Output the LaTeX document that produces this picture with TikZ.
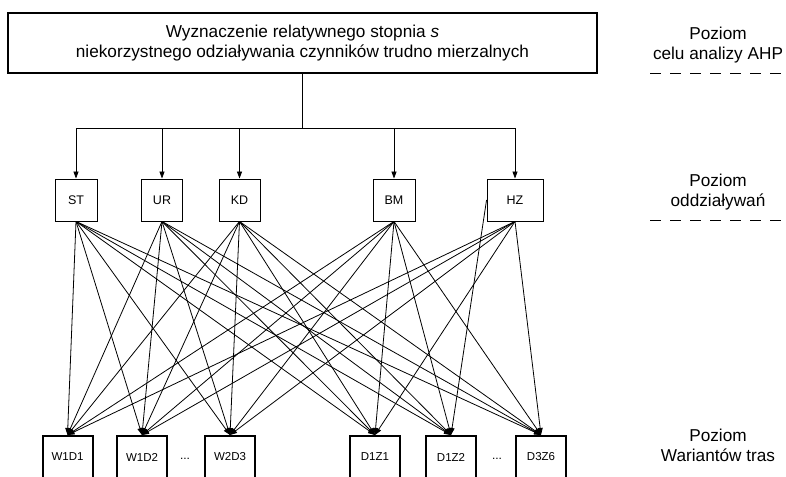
\documentclass[tikz,border=0pt]{standalone}
\usepackage{fontspec}
\setmainfont{Liberation Sans}
\usetikzlibrary{arrows.meta}
\begin{document}
\begin{tikzpicture}[x=1pt,y=-1pt,
  goal/.style={draw, line width=2.4pt, minimum width=589pt, minimum height=60pt, inner sep=0pt, align=center, font=\fontsize{17.2}{20}\selectfont},
  crit/.style={draw, line width=0.9pt, minimum height=42pt, inner sep=0pt, font=\fontsize{12.5}{14}\selectfont},
  alt/.style={draw, line width=2pt, minimum width=50pt, minimum height=42pt, inner sep=0pt, font=\fontsize{11.5}{14}\selectfont},
  lvl/.style={align=center, inner sep=0pt, font=\fontsize{17.2}{20}\selectfont},
  dots/.style={inner sep=0pt, font=\fontsize{12}{14}\selectfont},
  conn/.style={line width=0.8pt, -{Triangle[length=7pt,width=5pt]}},
  wire/.style={line width=0.8pt},
  sep/.style={line width=0.9pt, dash pattern=on 11pt off 9pt},
]
\useasboundingbox (0,0) rectangle (786,476);
\clip (0,0) rectangle (786,476);

% goal
\node[goal] (top) at (302.5,43) {Wyznaczenie relatywnego stopnia \textit{s}\\niekorzystnego odziaływania czynników trudno mierzalnych};

% criteria
\node[crit, minimum width=42pt] (st) at (76,200) {ST};
\node[crit, minimum width=41pt] (ur) at (162,200) {UR};
\node[crit, minimum width=41pt] (kd) at (239.5,200) {KD};
\node[crit, minimum width=42pt] (bm) at (394,200) {BM};
\node[crit, minimum width=56pt] (hz) at (515,200) {HZ};

% alternatives
\node[alt] (w1d1) at (67.5,457) {W1D1};
\node[alt] (w1d2) at (142,457) {W1D2};
\node[alt] (w2d3) at (230,457) {W2D3};
\node[alt] (d1z1) at (375,457) {D1Z1};
\node[alt] (d1z2) at (451,457) {D1Z2};
\node[alt] (d3z6) at (541,457) {D3Z6};
\node[dots] (e1) at (185,459) {...};
\node[dots] (e2) at (497,459) {...};

% tree from goal
\coordinate (j) at (top.south |- 0,128);
\draw[wire] (top.south) -- (j);
\draw[wire] (st.north |- j) -- (hz.north |- j);
\foreach \m in {st,ur,kd,bm,hz}
  \draw[conn] (\m.north |- j) -- (\m.north);

% criteria to alternatives
\foreach \m in {st,ur,kd,bm}
  \foreach \b in {w1d1,w1d2,w2d3,d1z1,d1z2,d3z6}
    \draw[conn] (\m.south) -- (\b.north);
\foreach \b in {w1d1,w1d2,w2d3,d1z1,d3z6}
  \draw[conn] (hz.south) -- (\b.north);
\draw[conn] (hz.west) -- (d1z2.north);

% level labels
\node[lvl] (l1) at (718,45) {Poziom\\celu analizy AHP};
\node[lvl] (l2) at (718,192.5) {Poziom\\oddziaływań};
\node[lvl] (l3) at (718,445) {Poziom\\Wariantów tras};
\coordinate (s1a) at (650,73);
\coordinate (s1b) at (786,73);
\coordinate (s2a) at (650,220);
\coordinate (s2b) at (786,220);
\draw[sep] (s1a) -- (s1b);
\draw[sep] (s2a) -- (s2b);
\end{tikzpicture}
\end{document}
